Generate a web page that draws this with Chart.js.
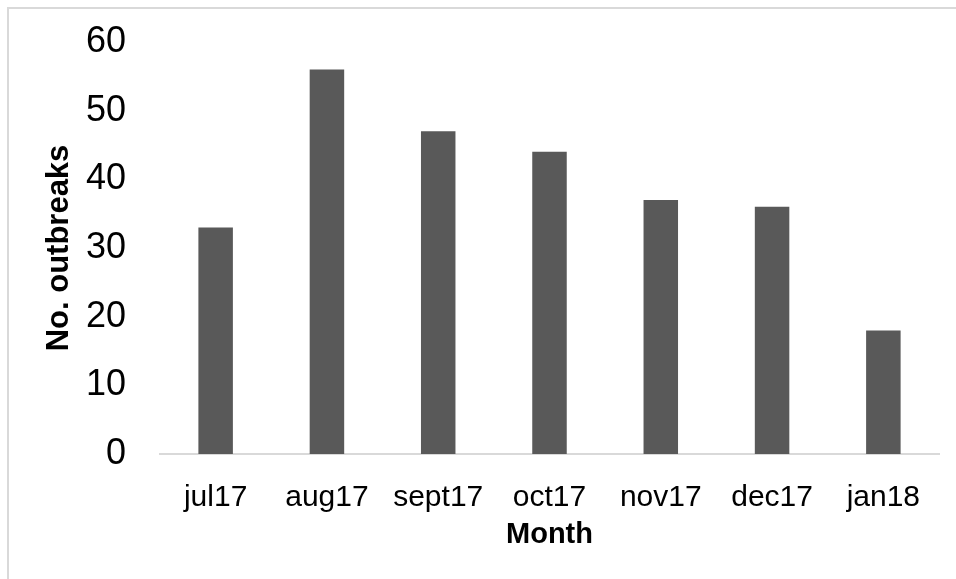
<!DOCTYPE html>
<html>
<head>
<meta charset="utf-8">
<script src="https://cdn.jsdelivr.net/npm/chart.js@4"></script>
<style>
  body { margin: 0; background: #fff; }
  #frame {
    position: absolute; left: 7px; top: 7px; width: 1000px; height: 1000px;
    border-left: 2px solid #d9d9d9; border-top: 2px solid #d9d9d9;
  }
  #wrap { position: absolute; left: 0; top: 0; width: 956px; height: 579px; }
</style>
</head>
<body>
<div id="frame"></div>
<div id="wrap"><canvas id="barChart"></canvas></div>
<script>
// data
var months = ["jul17", "aug17", "sept17", "oct17", "nov17", "dec17", "jan18"];
var outbreaks = [33, 56, 47, 44, 37, 36, 18];
var yTicks = [0, 10, 20, 30, 40, 50, 60];

Chart.defaults.font.family = "'Liberation Sans', Arial, sans-serif";
Chart.defaults.color = "#000";

var ctx = document.getElementById("barChart").getContext("2d");
var barChart = new Chart(ctx, {
  type: "bar",
  data: {
    labels: months,
    datasets: [
      {
        label: "No. outbreaks",
        data: outbreaks,
        backgroundColor: "#595959",
        barPercentage: 0.31,
        categoryPercentage: 1,
      },
    ],
  },
  options: {
    responsive: true,
    maintainAspectRatio: false,
    animation: false,
    layout: { padding: { left: 0, right: 17, top: 42, bottom: 27 } },
    plugins: { legend: { display: false }, tooltip: { enabled: false } },
    scales: {
      x: {
        grid: { display: false },
        border: { display: true, color: "#d9d9d9", width: 2 },
        ticks: { font: { size: 30 }, padding: 18, maxRotation: 0 },
        title: {
          display: true,
          text: "Month",
          font: { size: 29, weight: "bold" },
          padding: { top: 0, bottom: 0 },
        },
        afterFit: function (scale) {
          scale.height = 98;
          scale.paddingLeft = 0;
          scale.paddingRight = 0;
        },
      },
      y: {
        min: 0,
        max: 60,
        grid: { display: false },
        border: { display: false },
        ticks: {
          stepSize: 10,
          font: { size: 36 },
          padding: 26,
          callback: function (v) { return yTicks.indexOf(v) >= 0 ? v : ""; },
        },
        title: {
          display: true,
          text: "No. outbreaks",
          font: { size: 31, weight: "bold" },
          padding: { top: 41, bottom: 0 },
        },
        afterFit: function (scale) {
          scale.width = 160;
          scale.paddingTop = 0;
          scale.paddingBottom = 0;
        },
      },
    },
  },
});
</script>
</body>
</html>
